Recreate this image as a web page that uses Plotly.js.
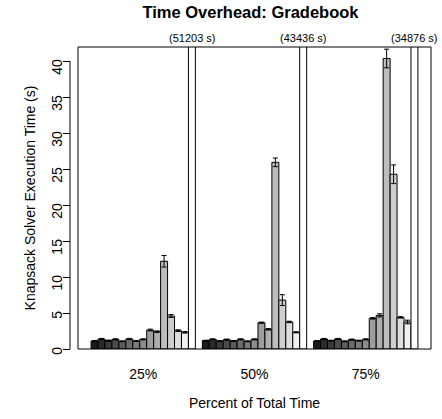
<!DOCTYPE html>
<html>
<head>
<meta charset="utf-8">
<script src="https://cdn.plot.ly/plotly-3.0.1.min.js"></script>
<style>
  html, body { margin: 0; padding: 0; background: #fff; }
  #chart { width: 442px; height: 419px; }
</style>
</head>
<body>
<div id="chart"></div>
<script>
// ---- data ----
const groups = ['25%', '50%', '75%'];
const times25 = [1.11, 1.39, 1.16, 1.34, 1.07, 1.39, 1.11, 1.34, 2.64, 2.41, 12.2, 4.59, 2.55, 2.32, 51203];
const times50 = [1.16, 1.34, 1.11, 1.30, 1.11, 1.34, 1.07, 1.34, 3.66, 2.74, 25.96, 6.8, 3.76, 2.32, 43436];
const times75 = [1.11, 1.39, 1.16, 1.39, 1.07, 1.30, 1.16, 1.34, 4.27, 4.68, 40.4, 24.3, 4.40, 3.76, 34876];
const err25 = [0.08, 0.08, 0.08, 0.08, 0.06, 0.08, 0.06, 0.08, 0.12, 0.10, 0.8, 0.2, 0.12, 0.10, 0];
const err50 = [0.06, 0.08, 0.06, 0.08, 0.06, 0.08, 0.06, 0.08, 0.08, 0.10, 0.6, 0.75, 0.10, 0.08, 0];
const err75 = [0.06, 0.08, 0.06, 0.08, 0.06, 0.08, 0.06, 0.08, 0.10, 0.22, 1.3, 1.3, 0.10, 0.25, 0];
const yTickVals = [0, 5, 10, 15, 20, 25, 30, 35, 40];

// ---- styles ----
const barColors = ['#1A1A1A', '#2A2A2A', '#3A3A3A', '#4B4B4B', '#5B5B5B', '#6B6B6B', '#7C7C7C',
  '#8C8C8C', '#9D9D9D', '#ADADAD', '#BDBDBD', '#CECECE', '#DEDEDE', '#EFEFEF', '#FFFFFF'];
const FONT = 'Liberation Sans, Arial, Helvetica, sans-serif';

const series = [times25, times50, times75];
const errs = [err25, err50, err75];
const nBars = times25.length;
const period = nBars + 1; // one bar-width gap between groups

const xs = [], ys = [], es = [], cs = [];
const annotations = [];
series.forEach((vals, g) => {
  vals.forEach((v, i) => {
    const x = 1 + g * period + i + 0.5;
    xs.push(x); ys.push(v); es.push(errs[g][i]); cs.push(barColors[i]);
  });
  const last = vals.length - 1;
  annotations.push({
    x: 1 + g * period + last + 0.5, xref: 'x',
    y: 1, yref: 'paper', yanchor: 'bottom', xanchor: 'center',
    yshift: 1, showarrow: false,
    text: '(' + vals[last] + ' s)',
    font: { family: FONT, size: 11, color: '#000' }
  });
});
const groupCenters = groups.map((_, g) => 1 + g * period + nBars / 2);
const xMin = 1, xMax = groups.length * period;
const pad = (xMax - xMin) * 0.04;

const trace = {
  type: 'bar', x: xs, y: ys, width: 1,
  marker: { color: cs, line: { color: '#000', width: 1 } },
  error_y: { type: 'data', array: es, visible: true, color: '#000', thickness: 1, width: 2.5 },
  hoverinfo: 'none'
};

const layout = {
  width: 442, height: 419,
  margin: { l: 70, r: 11, t: 47, b: 70 },
  paper_bgcolor: '#fff', plot_bgcolor: '#fff',
  showlegend: false,
  font: { family: FONT, size: 14, color: '#000' },
  title: { text: '<b>Time Overhead: Gradebook</b>', font: { family: FONT, size: 16.5, color: '#000' },
           x: 0.5, xref: 'paper', xanchor: 'center', y: 1, yref: 'container', yanchor: 'top', pad: { t: 6 } },
  xaxis: {
    domain: [8 / 361, 1],
    range: [xMin - pad, xMax + pad],
    tickvals: groupCenters, ticktext: groups,
    ticks: '', showgrid: false, zeroline: false, showline: false,
    ticklabelstandoff: 15,
    tickfont: { family: FONT, size: 14, color: '#000' },
    title: { text: 'Percent of Total Time', font: { family: FONT, size: 14, color: '#000' }, standoff: 17 },
    fixedrange: true
  },
  yaxis: {
    anchor: 'free', position: 0,
    range: [0, 42],
    tickvals: yTickVals, ticktext: yTickVals.map(String),
    ticks: 'outside', ticklen: 7, tickcolor: '#000', tickwidth: 1,
    tickangle: -89.99,
    ticklabelstandoff: 5,
    showgrid: false, zeroline: false, showline: false,
    tickfont: { family: FONT, size: 14, color: '#000' },
    title: { text: 'Knapsack Solver Execution Time (s)', font: { family: FONT, size: 14, color: '#000' }, standoff: 9 },
    fixedrange: true
  },
  shapes: [
    { type: 'rect', xref: 'x domain', yref: 'y domain', x0: 0, x1: 1, y0: 0, y1: 1,
      line: { color: '#000', width: 1 }, fillcolor: 'rgba(0,0,0,0)', layer: 'above' },
    { type: 'line', xref: 'paper', yref: 'y', x0: 0, x1: 0,
      y0: yTickVals[0], y1: yTickVals[yTickVals.length - 1], line: { color: '#000', width: 1 } }
  ],
  annotations: annotations
};

Plotly.newPlot('chart', [trace], layout, { displayModeBar: false, staticPlot: true });
</script>
</body>
</html>
